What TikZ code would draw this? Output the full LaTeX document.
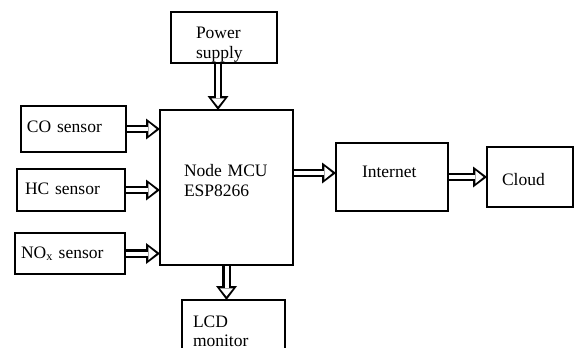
\documentclass[tikz,border=0pt]{standalone}
\usepackage{fontspec}
\setmainfont{Liberation Serif}
\usetikzlibrary{arrows.meta,positioning}
\tikzset{
  blk/.style={draw,line width=1.8pt,align=left,inner sep=0pt,outer sep=0pt},
  bigarrow/.style={draw=white,line width=4pt,shorten <=1pt,shorten >=3.6pt,
    -{Triangle[length=8pt,width=13pt,line width=0pt]},
    preaction={draw=black,line width=8.5pt,shorten <=0pt,shorten >=0pt,
      -{Triangle[length=14pt,width=21pt,line width=0pt]}}}
}

\begin{document}
\begin{tikzpicture}[x=1pt,y=-1pt,font=\fontsize{17.5}{20}\selectfont]
  \useasboundingbox (0,0) rectangle (574,348);
  \node[blk,minimum width=133pt,minimum height=155pt,text width=85pt,
    text height=5pt,text depth=28pt] (mcu) at (226.5,187.5) {Node MCU\\ESP8266};
  \node[blk,minimum width=106pt,minimum height=51pt,text width=56pt,
    text height=11pt,text depth=9pt,above=47pt of mcu,xshift=-2.5pt] (power) {Power\\supply};
  \node[blk,minimum width=108pt,minimum height=42pt,text width=92pt,
    text height=10pt,text depth=2pt] (hc) at (71,190) {HC sensor};
  \node[blk,minimum width=105pt,minimum height=46pt,text width=93pt,
    text height=9pt,text depth=3pt,above=17pt of hc,xshift=2.5pt] (co) {CO sensor};
  \node[blk,minimum width=110pt,minimum height=41pt,text width=98pt,
    text height=10pt,text depth=1pt,below=22pt of hc,xshift=-1pt] (nox) {NO\textsubscript{x} sensor};
  \node[blk,minimum width=112pt,minimum height=68pt,text width=60pt,
    text height=6pt,text depth=6pt,right=43pt of mcu,yshift=10.5pt] (internet) {Internet};
  \node[blk,minimum width=86pt,minimum height=60pt,text width=56pt,
    text height=16pt,text depth=0pt,right=39pt of internet] (cloud) {Cloud};
  \node[blk,minimum width=103pt,minimum height=60pt,text width=81pt,
    text height=4pt,text depth=10pt,below=35pt of mcu,xshift=7pt] (lcd) {LCD\\[-1pt]monitor};
  % block arrows
  \draw[bigarrow] ([xshift=-6pt]power.south) -- ([xshift=-6pt]power.south |- mcu.north);
  \foreach \s in {co,hc,nox}
    \draw[bigarrow] (\s.east) -- (\s.east -| mcu.west);
  \draw[bigarrow] ([yshift=4pt]internet.west -| mcu.east) -- ([yshift=4pt]internet.west);
  \draw[bigarrow] (internet.east) -- (cloud.west);
  \draw[bigarrow] (mcu.south) -- (mcu.south |- lcd.north);
\end{tikzpicture}
\end{document}
